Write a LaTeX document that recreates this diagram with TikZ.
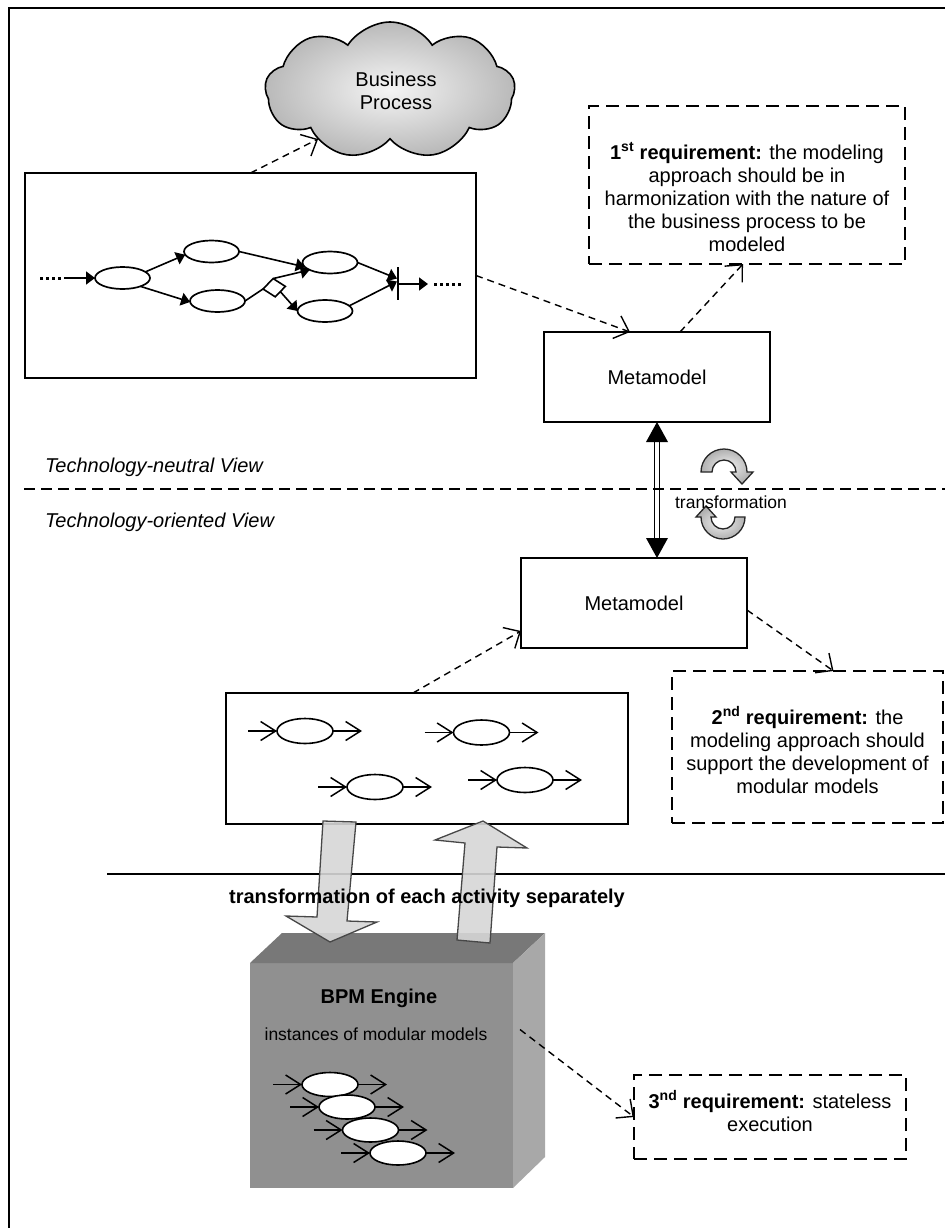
\documentclass[tikz,border=0pt]{standalone}
\usepackage{fontspec}
\setmainfont{Liberation Sans}
\usetikzlibrary{arrows.meta,shapes.geometric,shapes.symbols,calc}

\definecolor{cubefront}{gray}{0.565}
\definecolor{cubetop}{gray}{0.47}
\definecolor{cubeside}{gray}{0.66}
\definecolor{blockfill}{gray}{0.84}
\definecolor{blockedge}{gray}{0.28}

\begin{document}
\begin{tikzpicture}[x=1bp,y=-1bp,
  every node/.style={font=\fontsize{20bp}{23bp}\selectfont, inner sep=0pt, outer sep=0pt},
  outerframe/.style={line width=1.8bp},
  box/.style={draw, rectangle, line width=2bp},
  reqbox/.style={draw, rectangle, line width=1.8bp, dash pattern=on 13bp off 7bp},
  reqtext/.style={align=center},
  dep/.style={line width=1.4bp, dash pattern=on 7bp off 5bp, -{Straight Barb[length=13bp,width=24bp]}},
  procact/.style={draw, ellipse, line width=1.7bp, minimum width=55bp, minimum height=22bp},
  modact/.style={draw, ellipse, line width=1.6bp, minimum width=56bp, minimum height=25bp},
  instact/.style={draw, ellipse, fill=white, line width=1.6bp, minimum width=56bp, minimum height=24bp},
  seqflow/.style={line width=1.6bp, -{Triangle[length=9bp,width=13bp]}},
  openflow/.style={line width=1.5bp, -{Straight Barb[length=15bp,width=19bp]}},
  dotlead/.style={line width=3bp, dash pattern=on 3bp off 3bp},
  blockarrow/.style={fill=blockfill, draw=blockedge, line width=1.3bp, fill opacity=0.9},
  turnarrow/.style={draw=black!85, line width=1.3bp, inner color=gray!12, outer color=gray!62},
  smallfont/.style={font=\fontsize{17.5bp}{21bp}\selectfont}
]
\useasboundingbox (0,0) rectangle (945,1228);
\fill[white] (0,0) rectangle (945,1228);

% outer frame (top and left edges)
\draw[outerframe] (9,1228) -- (9,8) -- (945,8);

% view separators
\draw[line width=1.9bp, dash pattern=on 11bp off 6bp] (24,489) -- (945,489);
\draw[line width=1.7bp] (107,874) -- (945,874);
\node[anchor=base west] (neutral) at (45,472) {\itshape Technology-neutral View};
\node[anchor=base west] (oriented) at (45,527) {\itshape Technology-oriented View};

% business process cloud
\node[cloud, cloud puffs=9, cloud puff arc=115, aspect=1.8, draw, line width=1.6bp,
      minimum width=250bp, minimum height=137bp, shading=radial,
      inner color=gray!8, outer color=gray!55] (bp) at (390,90.5) {};
\node[align=center] (bptext) at (396,91) {Business\\Process};

% process model
\node[box, minimum width=451bp, minimum height=205bp] (proc) at (250.5,275.5) {};
\node[procact] (p1) at (122.5,278) {};
\node[procact] (p2) at (211.5,251.5) {};
\node[procact] (p3) at (217.5,301) {};
\node[procact] (p4) at (330,262.5) {};
\node[procact] (p5) at (325,311) {};
\node[draw, diamond, line width=1.6bp, minimum width=22.5bp, minimum height=18.4bp, rotate=6.6] (gw) at (274.2,287.7) {};
\coordinate (join) at (398,283.5);
\draw[line width=1.6bp] (join) ++(0,-16.5) -- ++(0,33);
\coordinate (joinA) at (397,278.5);
\coordinate (joinB) at (397,281.5);
\coordinate (dotsL) at (40,278);
\coordinate (inL) at (64,278);
\coordinate (outR) at (428,284);
\coordinate (dotsRa) at (434,284);
\coordinate (dotsRb) at (463,284);
\draw[dotlead] (dotsL) -- (inL);
\draw[seqflow] (inL) -- (p1.west);
\draw[seqflow] (p1.15) -- (p2.187);
\draw[seqflow] (p1.-25) -- (p3.182);
\draw[seqflow] (p2.east) -- (p4.190);
\draw[line width=1.6bp] (p3.east) -- (gw.west);
\draw[seqflow] (gw.north) -- (p4.200);
\draw[seqflow] (gw.south east) -- (p5.west);
\draw[seqflow] (p4.east) -- (joinA);
\draw[seqflow] (p5.12) -- (joinB);
\draw[seqflow] (join |- outR) -- (outR);
\draw[dotlead] (dotsRa) -- (dotsRb);

% metamodels
\node[box, minimum width=226bp, minimum height=90bp] (mm1) at (657,377) {Metamodel};
\node[box, minimum width=226bp, minimum height=90bp] (mm2) at (634,603) {Metamodel};

% requirements
\node[reqbox, minimum width=316bp, minimum height=158bp] (req1) at (747,185) {};
\node[reqtext] (req1t) at (747,197) {\textbf{1\textsuperscript{st} requirement:} the modeling\\approach should be in\\harmonization with the nature of\\the business process to be\\modeled};
\node[reqbox, minimum width=271bp, minimum height=152bp] (req2) at (807.5,747) {};
\node[reqtext] (req2t) at (807.5,750) {\textbf{2\textsuperscript{nd} requirement:} the\\modeling approach should\\support the development of\\modular models};
\node[reqbox, minimum width=272bp, minimum height=84bp] (req3) at (770,1117) {};
\node[reqtext] (req3t) at (770,1111) {\textbf{3\textsuperscript{nd} requirement:} stateless\\execution};

% two-way transformation between the metamodels
\coordinate (dtop) at (mm1.south);
\coordinate (dbot) at (mm1.south |- mm2.north);
\fill (dtop) -- ++(-11,20) -- ++(22,0) -- cycle;
\fill (dbot) -- ++(-11,-20) -- ++(22,0) -- cycle;
\draw[line width=1.5bp] ($(dtop)+(-2.7,19)$) -- ($(dbot)+(-2.7,-19)$);
\draw[line width=1.5bp] ($(dtop)+(2.7,19)$) -- ($(dbot)+(2.7,-19)$);

% rotating arrows
\coordinate (rotA) at (724,472);
\shadedraw[turnarrow] ($(rotA)+(-23,0)$) arc[start angle=180, end angle=0, radius=23bp]
  -- ++(6,0) -- ($(rotA)+(18,12)$) -- ($(rotA)+(7,0)$) -- ($(rotA)+(12,0)$)
  arc[start angle=0, end angle=180, radius=12bp] -- cycle;
\coordinate (rotB) at (723,517);
\shadedraw[turnarrow] ($(rotB)+(22,0)$) arc[start angle=0, end angle=-180, radius=22bp]
  -- ++(-5,0) -- ($(rotB)+(-17,-11)$) -- ($(rotB)+(-7,0)$) -- ($(rotB)+(-12,0)$)
  arc[start angle=-180, end angle=0, radius=12bp] -- cycle;
\node[smallfont, anchor=base] (trlabel) at (731,508) {transformation};

% modular models
\node[box, minimum width=402bp, minimum height=131bp] (mods) at (427,758.5) {};
\node[modact] (a1) at (305,731) {};
\node[modact] (a2) at (481.5,732.5) {};
\node[modact] (a3) at (375,787) {};
\node[modact] (a4) at (525,780) {};
\foreach \a in {a1,a2,a3,a4}{
  \draw[openflow] ([xshift=-29bp]\a.west) -- (\a.west);
  \draw[openflow] (\a.east) -- ([xshift=29bp]\a.east);
}

% dependency arrows
\draw[dep] (proc.north) -- (bp.214);
\draw[dep] (proc.east) -- ([xshift=-27bp]mm1.north);
\draw[dep] ([xshift=23bp]mm1.north) -- ([xshift=-4bp]req1.south);
\draw[dep] ([yshift=-7bp]mm2.east) -- ([xshift=26bp]req2.north);
\draw[dep] ([xshift=-14bp]mods.north) -- ([yshift=-28bp]mm2.west);

% BPM engine block
\node[fill=cubefront, minimum width=263bp, minimum height=225bp] (bpm) at (381.5,1075.5) {};
\fill[cubetop] (bpm.north west) -- ++(32,-30) -- ++(263,0) -- (bpm.north east) -- cycle;
\fill[cubeside] (bpm.north east) -- ++(32,-30) -- ++(0,224) -- (bpm.south east) -- cycle;
\node[anchor=base] (bpmtitle) at (379,1003) {\bfseries BPM Engine};
\node[smallfont, anchor=base] (bpmsub) at (376,1040) {instances of modular models};
\node[instact] (b1) at (330,1084.5) {};
\draw[openflow] ([xshift=-29bp]b1.west) -- (b1.west);
\draw[openflow] (b1.east) -- ([xshift=29bp]b1.east);
\node[instact] (b2) at (347,1107) {};
\draw[openflow] ([xshift=-29bp]b2.west) -- (b2.west);
\draw[openflow] (b2.east) -- ([xshift=29bp]b2.east);
\node[instact] (b3) at (370.5,1130) {};
\draw[openflow] ([xshift=-29bp]b3.west) -- (b3.west);
\draw[openflow] (b3.east) -- ([xshift=29bp]b3.east);
\node[instact] (b4) at (398,1153) {};
\draw[openflow] ([xshift=-29bp]b4.west) -- (b4.west);
\draw[openflow] (b4.east) -- ([xshift=29bp]b4.east);
\coordinate (cubeout) at ($(bpm.east)+(7,-46)$);
\draw[dep] (cubeout) -- (req3.west);

% per-activity transformation arrows
\draw[blockarrow] (323,821) -- (356,822) -- (347,921) -- (377,922) -- (330,942) -- (286,916) -- (317,917) -- cycle;
\draw[blockarrow] (483,821) -- (527,848) -- (497,847) -- (490,943) -- (457,940) -- (465,843) -- (435,840) -- cycle;
\node[anchor=base] (sepnote) at (427,903) {\bfseries transformation of each activity separately};
\end{tikzpicture}
\end{document}
